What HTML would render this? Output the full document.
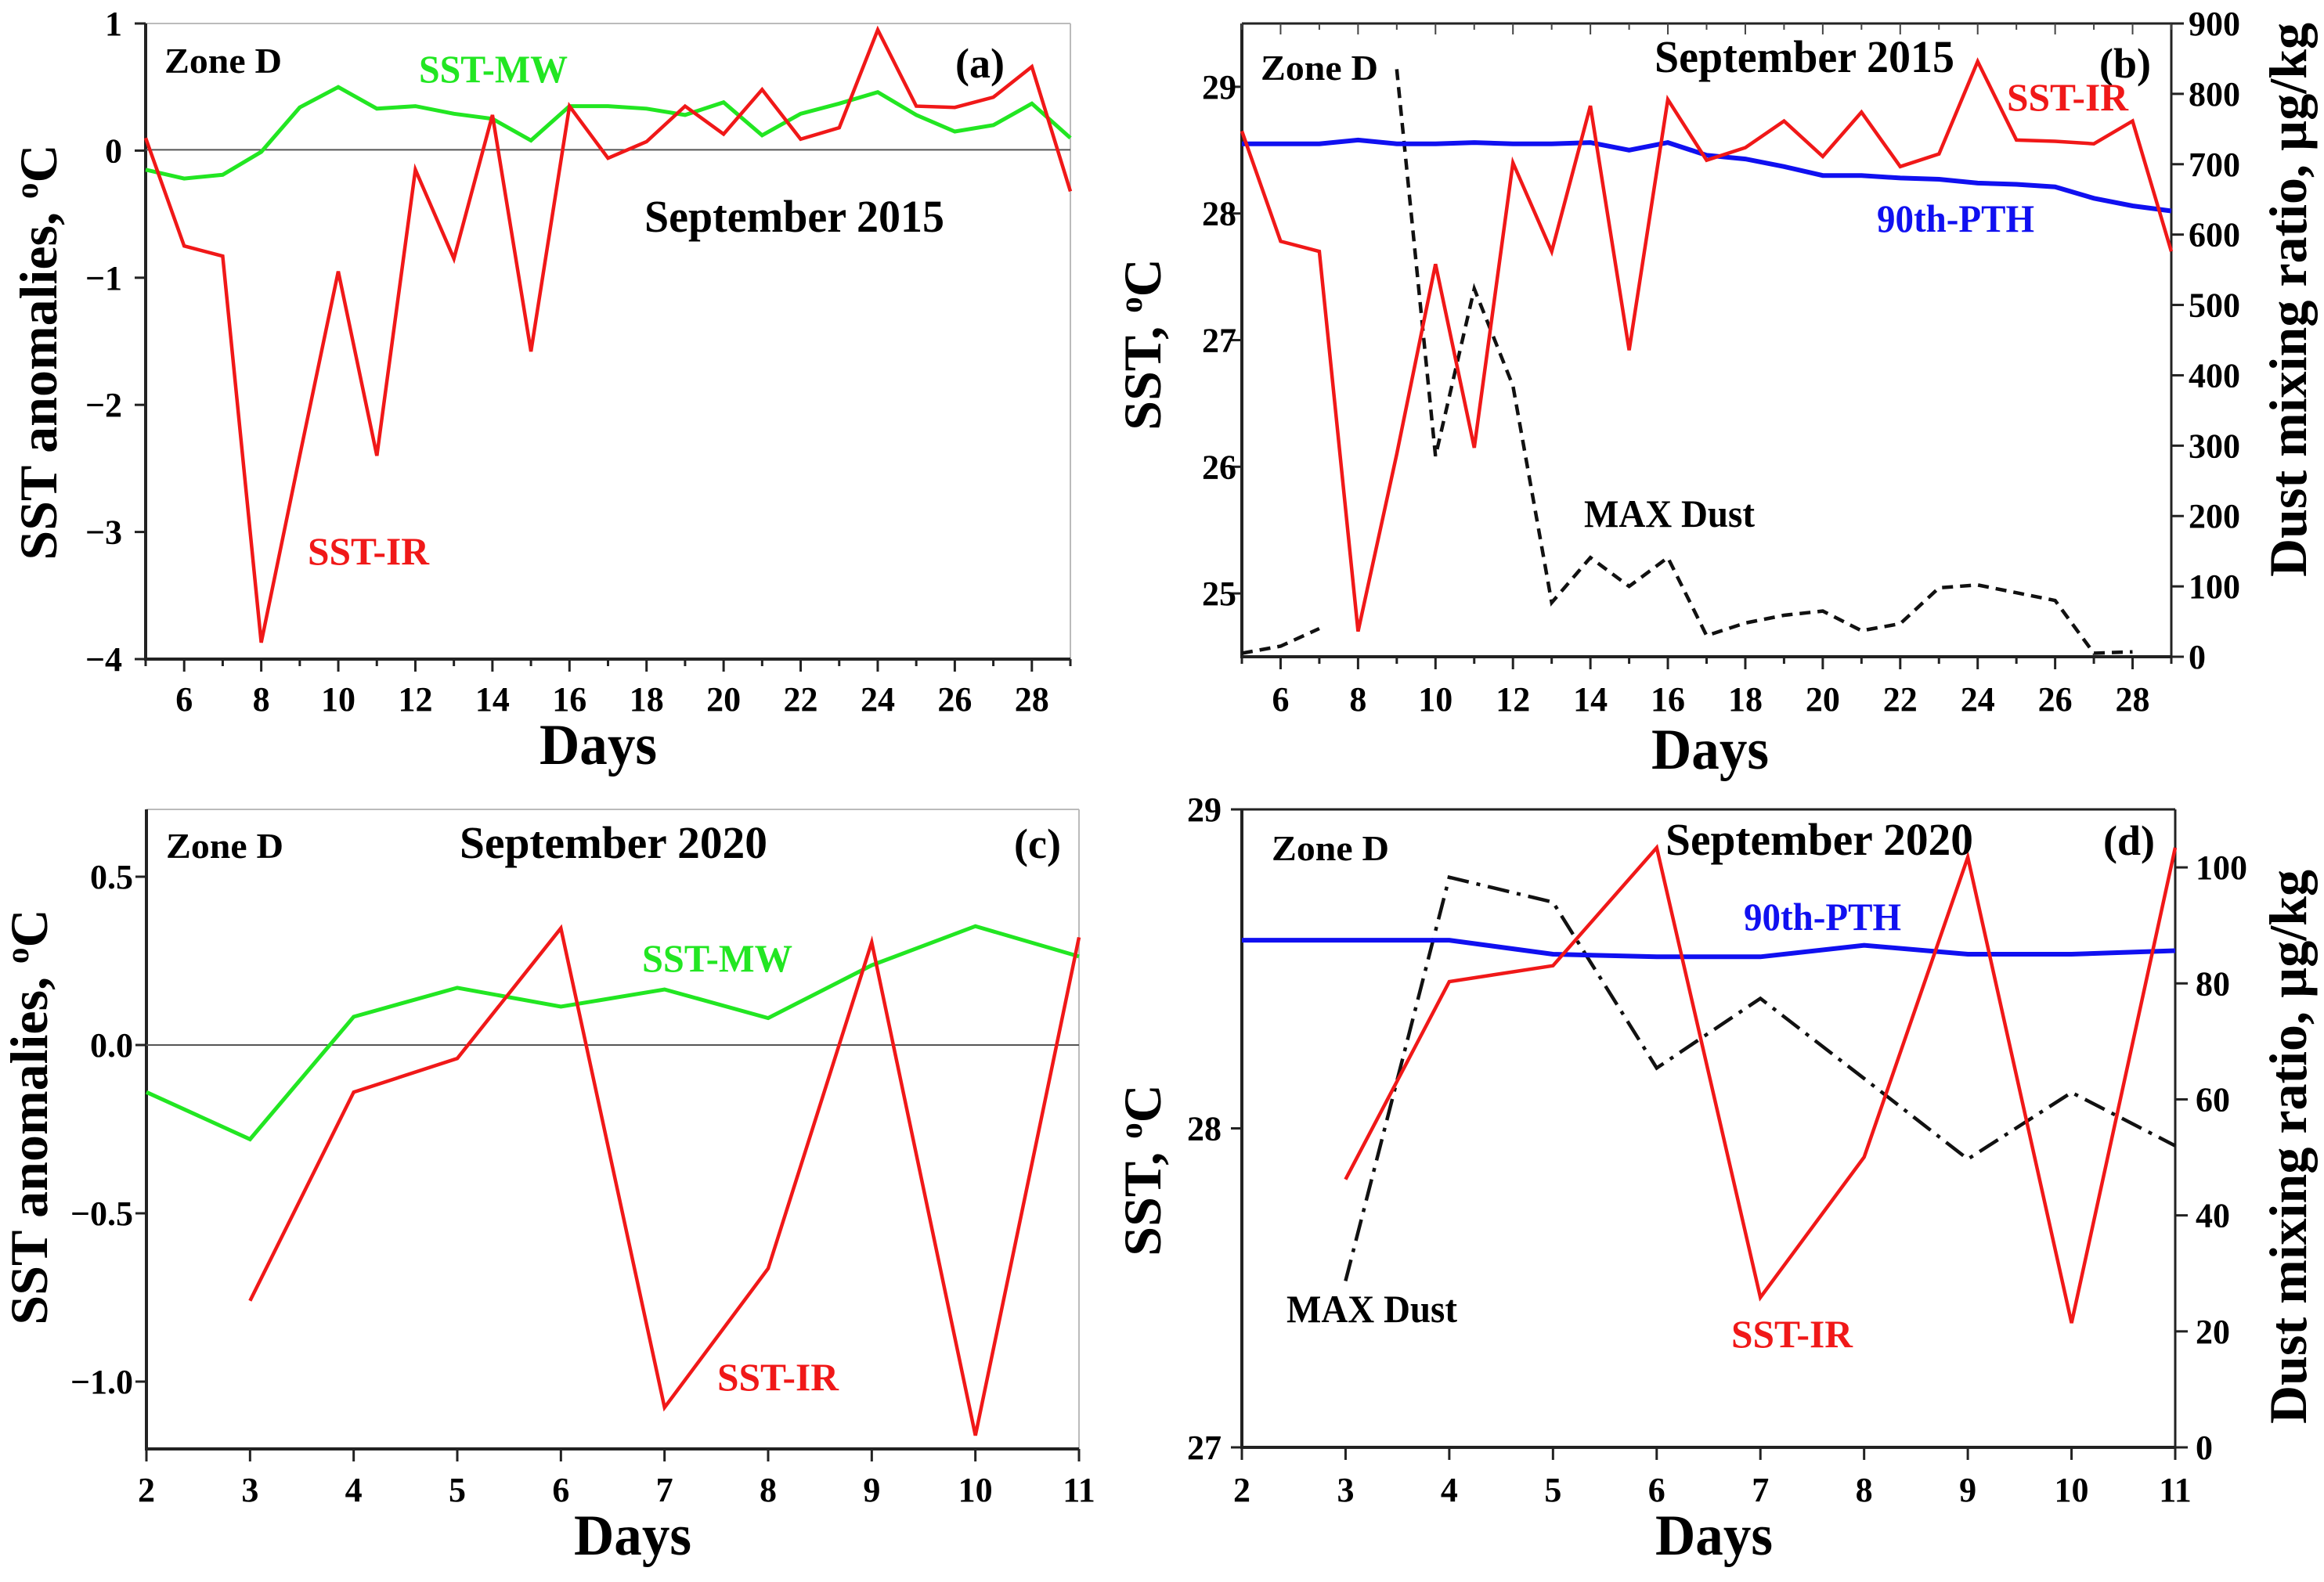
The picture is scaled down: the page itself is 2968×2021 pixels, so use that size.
<!DOCTYPE html>
<html><head><meta charset="utf-8">
<style>
html,body{margin:0;padding:0;background:#fff;}
svg{display:block;}
text{font-family:"Liberation Serif",serif;font-weight:bold;}
</style></head>
<body>
<svg id="fig" xmlns="http://www.w3.org/2000/svg" width="2968" height="2021" viewBox="0 0 2968 2021"></svg>
<script>
// ---- Panel (a) data: September 2015 anomalies ----
const daysA = [5,6,7,8,9,10,11,12,13,14,15,16,17,18,19,20,21,22,23,24,25,26,27,28,29];
const irA = [0.1,-0.75,-0.83,-3.87,-2.4,-0.95,-2.4,-0.15,-0.85,0.28,-1.58,0.35,-0.06,0.07,0.35,0.13,0.48,0.09,0.18,0.95,0.35,0.34,0.42,0.66,-0.32];
const mwA = [-0.15,-0.22,-0.19,-0.01,0.34,0.5,0.33,0.35,0.29,0.25,0.08,0.35,0.35,0.33,0.28,0.38,0.12,0.29,0.37,0.46,0.28,0.15,0.2,0.37,0.1];
const yTicksA = [1,0,-1,-2,-3,-4];
const xTicksA = [6,8,10,12,14,16,18,20,22,24,26,28];
// ---- Panel (b) data ----
const irB = [28.65,27.78,27.7,24.7,26.1,27.6,26.15,28.4,27.7,28.85,26.92,28.9,28.42,28.52,28.73,28.45,28.8,28.37,28.47,29.2,28.58,28.57,28.55,28.73,27.7];
const pthB = [28.55,28.55,28.55,28.58,28.55,28.55,28.56,28.55,28.55,28.56,28.5,28.56,28.46,28.43,28.37,28.3,28.3,28.28,28.27,28.24,28.23,28.21,28.12,28.06,28.02];
const dustB = [5,15,40,null,835,285,523,385,77,141,100,141,30,48,59,65,37,47,98,102,91,80,5,7,null];
const yTicksB = [25,26,27,28,29];
const yTicksBR = [0,100,200,300,400,500,600,700,800,900];
// ---- Panel (c) data: September 2020 anomalies ----
const daysC = [2,3,4,5,6,7,8,9,10,11];
const mwC = [-0.14,-0.28,0.084,0.17,0.114,0.165,0.08,0.237,0.353,0.263];
const irC = [null,-0.76,-0.14,-0.04,0.347,-1.077,-0.664,0.305,-1.16,0.32];
const yTicksC = [0.5,0.0,-0.5,-1.0];
const yTickLabelsC = ["0.5","0.0","\u22120.5","\u22121.0"];
// ---- Panel (d) data ----
const irD = [null,27.84,28.46,28.51,28.88,27.47,27.91,28.85,27.39,28.88];
const pthD = [28.59,28.59,28.59,28.546,28.538,28.538,28.574,28.546,28.546,28.557];
const dustD = [null,28.7,98.3,94,65.4,77.4,63.6,49.7,61.2,52];
const yTicksD = [27,28,29];
const yTicksDR = [0,20,40,60,80,100];

const NS="http://www.w3.org/2000/svg";
const svg=document.getElementById('fig');
function el(tag,attrs,parent){const e=document.createElementNS(NS,tag);for(const k in attrs)e.setAttribute(k,attrs[k]);(parent||svg).appendChild(e);return e;}
function txt(s,x,y,size,fill,anchor,name,extra){const t=el('text',Object.assign({x:x,y:y,'font-size':size,fill:fill||'#000','text-anchor':anchor||'start'},extra||{}));t.textContent=s;
if(extra&&extra.textLength)t.setAttribute('lengthAdjust','spacingAndGlyphs');


return t;}
function lin(d0,d1,p0,p1){return v=>p0+(v-d0)/(d1-d0)*(p1-p0);}
function line(xs,ys,sx,sy,color,w,dash,name){let d='',pen=false;for(let i=0;i<xs.length;i++){if(ys[i]===null||ys[i]===undefined){pen=false;continue;}d+=(pen?'L':'M')+sx(xs[i]).toFixed(1)+','+sy(ys[i]).toFixed(1);pen=true;}
const p=el('path',{d:d,fill:'none',stroke:color,'stroke-width':w,'stroke-linejoin':'miter'});if(dash)p.setAttribute('stroke-dasharray',dash);


return p;}
function ytitle(parts,cx,cy,size,name){const t=el('text',{x:0,y:0,'font-size':size,'text-anchor':'middle',transform:`translate(${cx},${cy}) rotate(-90)`});


const a=el('tspan',{},t);a.textContent=parts[0];const o=el('tspan',{'font-size':size*0.6,dy:-size*0.35},t);o.textContent='o';const c=el('tspan',{dy:size*0.35},t);c.textContent='C';return t;}

function frame(L,R,T,B,full){
  if(!full){
    el('line',{x1:L,y1:T,x2:R,y2:T,stroke:'#bbb','stroke-width':2});
    el('line',{x1:R,y1:T,x2:R,y2:B,stroke:'#bbb','stroke-width':2});
  } else {
    el('line',{x1:L,y1:T,x2:R,y2:T,stroke:'#222','stroke-width':3});
    el('line',{x1:R,y1:T,x2:R,y2:B,stroke:'#222','stroke-width':3});
  }
  el('line',{x1:L,y1:T,x2:L,y2:B+2,stroke:'#222','stroke-width':4});
  el('line',{x1:L-2,y1:B,x2:R,y2:B,stroke:'#222','stroke-width':4});
}
const TK=44;

// ===== Panel a =====
(function(){
 const L=186,R=1367,T=30,B=842;
 const sx=lin(5,29,L,R), sy=lin(1,-4,T,B);
 frame(L,R,T,B,false);
 el('line',{x1:L,y1:sy(0)-1,x2:R,y2:sy(0)-1,stroke:'#555','stroke-width':2});
 for(let d=5;d<=29;d++){const big=d%2===0;el('line',{x1:sx(d),y1:B,x2:sx(d),y2:B+(big?16:9),stroke:'#222','stroke-width':3});}
 xTicksA.forEach(d=>txt(String(d),sx(d),908,TK,'#000','middle','x-tick-label'));
 yTicksA.forEach(v=>{el('line',{x1:L-14,y1:sy(v),x2:L,y2:sy(v),stroke:'#222','stroke-width':3});txt(v<0?'\u2212'+(-v):String(v),156,sy(v)+15,TK,'#000','end','y-tick-label');});
 line(daysA,mwA,sx,sy,'#22e622',5,null,'sst-mw-line-a');
 line(daysA,irA,sx,sy,'#f01818',4.5,null,'sst-ir-line-a');
 txt('Zone D',210,93,46,'#000','start','zone-label-a',{textLength:150});
 txt('SST-MW',535,105,50,'#22e622','start','sst-mw-label-a',{textLength:190});
 txt('(a)',1220,99,54,'#000','start','panel-label-a');
 txt('September 2015',823,296,58,'#000','start','title-a',{textLength:383});
 txt('SST-IR',393,721,50,'#f01818','start','sst-ir-label-a',{textLength:155});
 txt('Days',764,976,74,'#000','middle','x-axis-title-a',{textLength:150});
 ytitle(['SST anomalies, '],72,450,68,'y-axis-title-a');
})();

// ===== Panel b =====
(function(){
 const L=1586,R=2773,T=30,B=839;
 const sx=lin(5,29,L,R), sy=lin(29.5,24.5,T,B), sr=lin(900,0,T,B);
 frame(L,R,T,B,true);
 for(let d=5;d<=29;d++){const big=d%2===0;el('line',{x1:sx(d),y1:B,x2:sx(d),y2:B+(big?16:9),stroke:'#222','stroke-width':3});el('line',{x1:sx(d),y1:T,x2:sx(d),y2:T+(big?14:8),stroke:'#444','stroke-width':2});}
 xTicksA.forEach(d=>txt(String(d),sx(d),908,TK,'#000','middle','x-tick-label'));
 yTicksB.forEach(v=>{el('line',{x1:L-14,y1:sy(v),x2:L,y2:sy(v),stroke:'#222','stroke-width':3});txt(String(v),1579,sy(v)+15,TK,'#000','end','y-tick-label');});
 yTicksBR.forEach(v=>{el('line',{x1:R,y1:sr(v),x2:R+16,y2:sr(v),stroke:'#222','stroke-width':3});txt(String(v),2795,sr(v)+15,TK,'#000','start','y2-tick-label');});
 line(daysA,dustB,sx,sr,'#111',4.5,'14,9','max-dust-line-b');
 line(daysA,pthB,sx,sy,'#1010f0',6,null,'pth-line-b');
 line(daysA,irB,sx,sy,'#f01818',4.5,null,'sst-ir-line-b');
 txt('Zone D',1610,102,46,'#000','start','zone-label-b',{textLength:150});
 txt('September 2015',2113,92,58,'#000','start','title-b',{textLength:383});
 txt('(b)',2681,99,54,'#000','start','panel-label-b');
 txt('SST-IR',2563,141,50,'#f01818','start','sst-ir-label-b',{textLength:155});
 txt('90th-PTH',2397,296,50,'#1010f0','start','pth-label-b',{textLength:201});
 txt('MAX Dust',2023,673,50,'#000','start','max-dust-label-b',{textLength:218});
 txt('Days',2184,982,74,'#000','middle','x-axis-title-b',{textLength:150});
 ytitle(['SST, '],1482,440,68,'y-axis-title-b');
 txt('Dust mixing ratio, \u00b5g/kg',0,0,68,'#000','middle','y2-axis-title-b',{transform:'translate(2945,383) rotate(-90)'});
})();

// ===== Panel c =====
(function(){
 const L=187,R=1378,T=1034,B=1851;
 const sx=lin(2,11,L,R), sy=lin(0.7,-1.2,T,B);
 frame(L,R,T,B,false);
 el('line',{x1:L,y1:sy(0),x2:R,y2:sy(0),stroke:'#555','stroke-width':2});
 daysC.forEach(d=>{el('line',{x1:sx(d),y1:B,x2:sx(d),y2:B+16,stroke:'#222','stroke-width':3});txt(String(d),sx(d),1918,TK,'#000','middle','x-tick-label');});
 yTicksC.forEach((v,i)=>{el('line',{x1:L-14,y1:sy(v),x2:L,y2:sy(v),stroke:'#222','stroke-width':3});txt(yTickLabelsC[i],170,sy(v)+15,TK,'#000','end','y-tick-label');});
 line(daysC,mwC,sx,sy,'#22e622',5,null,'sst-mw-line-c');
 line(daysC,irC,sx,sy,'#f01818',4.5,null,'sst-ir-line-c');
 txt('Zone D',212,1096,46,'#000','start','zone-label-c',{textLength:150});
 txt('September 2020',587,1096,58,'#000','start','title-c',{textLength:393});
 txt('(c)',1295,1096,54,'#000','start','panel-label-c');
 txt('SST-MW',820,1241,50,'#22e622','start','sst-mw-label-c',{textLength:192});
 txt('SST-IR',916,1776,50,'#f01818','start','sst-ir-label-c',{textLength:155});
 txt('Days',808,1986,74,'#000','middle','x-axis-title-c',{textLength:150});
 ytitle(['SST anomalies, '],60,1427,68,'y-axis-title-c');
})();

// ===== Panel d =====
(function(){
 const L=1586,R=2778,T=1034,B=1849;
 const sx=lin(2,11,L,R), sy=lin(29,27,T,B), sr=lin(110,0,T,B);
 frame(L,R,T,B,true);
 daysC.forEach(d=>{el('line',{x1:sx(d),y1:B,x2:sx(d),y2:B+16,stroke:'#222','stroke-width':3});txt(String(d),sx(d),1918,TK,'#000','middle','x-tick-label');});
 yTicksD.forEach(v=>{el('line',{x1:L-14,y1:sy(v),x2:L,y2:sy(v),stroke:'#222','stroke-width':3});txt(String(v),1560,sy(v)+15,TK,'#000','end','y-tick-label');});
 yTicksDR.forEach(v=>{el('line',{x1:R,y1:sr(v),x2:R+16,y2:sr(v),stroke:'#222','stroke-width':3});txt(String(v),2804,sr(v)+15,TK,'#000','start','y2-tick-label');});
 line(daysC,dustD,sx,sr,'#111',4.5,'28,10,5,10','max-dust-line-d');
 line(daysC,pthD,sx,sy,'#1010f0',6,null,'pth-line-d');
 line(daysC,irD,sx,sy,'#f01818',4.5,null,'sst-ir-line-d');
 txt('Zone D',1624,1099,46,'#000','start','zone-label-d',{textLength:150});
 txt('September 2020',2127,1092,58,'#000','start','title-d',{textLength:393});
 txt('(d)',2686,1092,54,'#000','start','panel-label-d');
 txt('90th-PTH',2227,1188,50,'#1010f0','start','pth-label-d',{textLength:201});
 txt('MAX Dust',1643,1689,50,'#000','start','max-dust-label-d',{textLength:218});
 txt('SST-IR',2211,1721,50,'#f01818','start','sst-ir-label-d',{textLength:155});
 txt('Days',2189,1986,74,'#000','middle','x-axis-title-d',{textLength:150});
 ytitle(['SST, '],1482,1495,68,'y-axis-title-d');
 txt('Dust mixing ratio, \u00b5g/kg',0,0,68,'#000','middle','y2-axis-title-d',{transform:'translate(2945,1465) rotate(-90)'});
})();
</script>
</body></html>
